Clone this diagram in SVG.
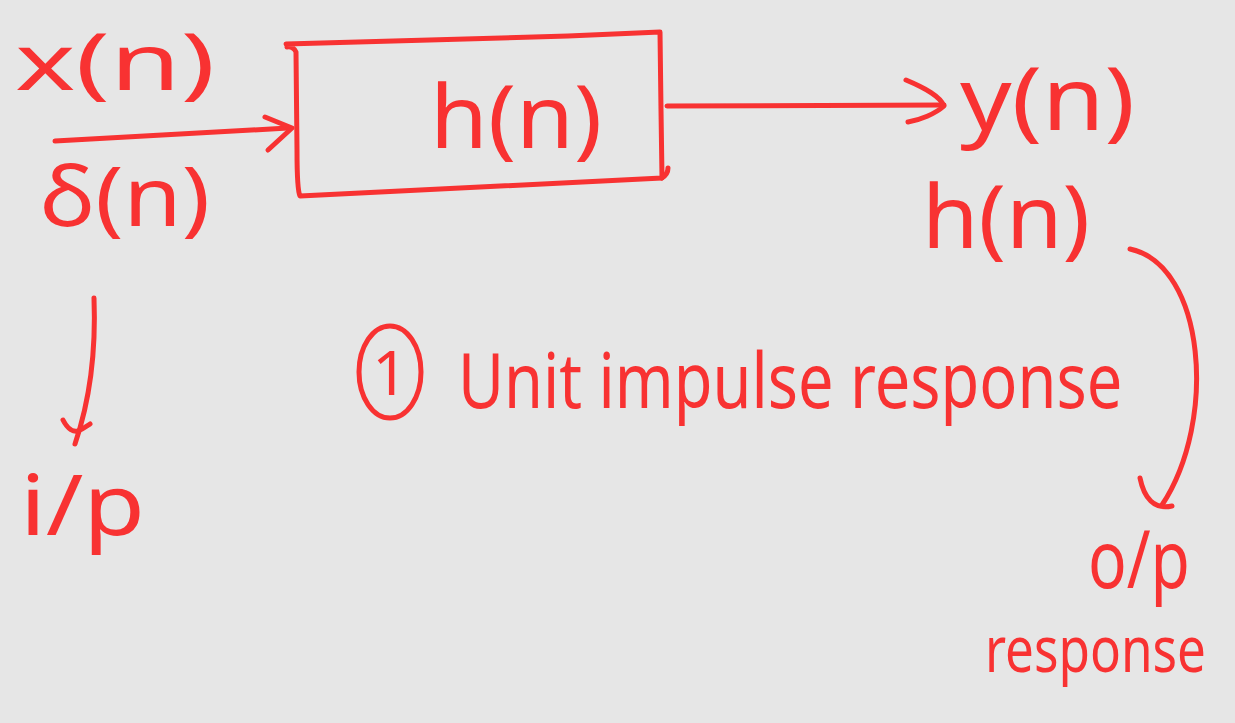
<svg xmlns="http://www.w3.org/2000/svg" width="1235" height="723" viewBox="0 0 1235 723">
  <style>
    .ink { fill: none; stroke: #f83232; stroke-width: 5; stroke-linecap: round; stroke-linejoin: round; }
    .lbl { fill: #f83232; font-family: "Noto Sans", "Liberation Sans", sans-serif; font-weight: normal; }
  </style>
  <rect width="1235" height="723" fill="#e6e6e6"/>

  <!-- connectors -->
  <g id="connectors">
    <!-- input arrow into the system -->
    <path class="ink" d="M55,141 L288,128"/>
    <path class="ink" d="M265,117 L292,128 L268,150"/>
    <!-- output arrow from the system -->
    <path class="ink" d="M667,106 L944,105"/>
    <path class="ink" d="M906,80 C925,88 940,96 944,106 C935,114 920,120 908,122"/>
    <!-- pointer from delta(n) down to i/p -->
    <path class="ink" d="M94,298 C96,350 90,400 75,444"/>
    <path class="ink" d="M63,420 C68,430 74,432 78,431 C83,429 87,426 90,424"/>
    <!-- pointer from h(n) down to o/p response -->
    <path class="ink" d="M1130,249 C1205,265 1218,420 1162,505"/>
    <path class="ink" d="M1140,478 C1144,498 1154,510 1172,506"/>
  </g>

  <!-- system block -->
  <g id="system">
    <path class="ink" d="M286,44 L568,36 L660,32 L661,110 L662,178 L300,196 Q297,190 297,150 L296,52 Q293,46 287,47"/>
    <path class="ink" d="M662,178 C665,176 668,172 668,168"/>
    <text class="lbl" x="430" y="148" font-size="88" textLength="172" lengthAdjust="spacingAndGlyphs">h(n)</text>
  </g>

  <!-- input signal labels -->
  <g id="input">
    <text class="lbl" x="15" y="90" font-size="78" textLength="200" lengthAdjust="spacingAndGlyphs">x(n)</text>
    <text class="lbl" x="40" y="226" font-size="82" textLength="170" lengthAdjust="spacingAndGlyphs">δ(n)</text>
  </g>

  <g id="ip">
    <text class="lbl" x="20" y="535" font-size="84" textLength="125" lengthAdjust="spacingAndGlyphs">i/p</text>
  </g>

  <!-- output signal labels -->
  <g id="output">
    <text class="lbl" x="960" y="130" font-size="88" textLength="175" lengthAdjust="spacingAndGlyphs">y(n)</text>
    <text class="lbl" x="922" y="248" font-size="88" textLength="168" lengthAdjust="spacingAndGlyphs">h(n)</text>
  </g>

  <g id="op">
    <text class="lbl" x="1088" y="588" font-size="80" textLength="102" lengthAdjust="spacingAndGlyphs">o/p</text>
    <g transform="translate(985,672) scale(0.8,1)">
      <text class="lbl" x="0" y="0" font-size="64">response</text>
    </g>
  </g>

  <!-- definition note -->
  <g id="note">
    <ellipse class="ink" cx="390" cy="372" rx="31" ry="46"/>
    <text class="lbl" x="390" y="395" font-size="62" text-anchor="middle">1</text>
    <g transform="translate(458,408) scale(0.83,1)">
      <text class="lbl" x="0" y="0" font-size="76">Unit impulse response</text>
    </g>
  </g>
</svg>
